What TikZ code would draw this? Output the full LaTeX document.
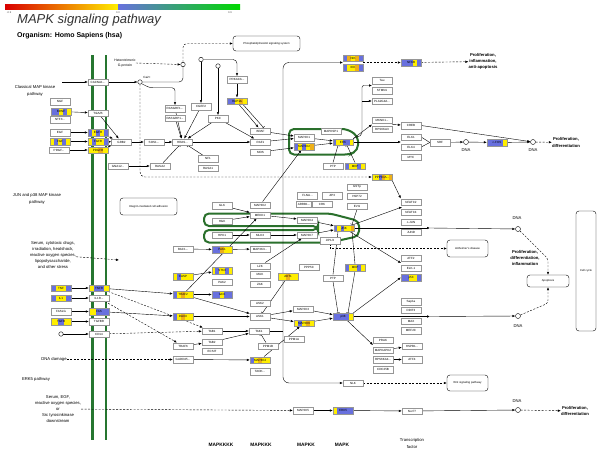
\documentclass[tikz,border=0pt]{standalone}
\usepackage{fontspec}
\setmainfont{Liberation Sans}
\usetikzlibrary{arrows.meta,calc}
\pgfdeclarelayer{bg}
\pgfsetlayers{bg,main}

\definecolor{kblue}{RGB}{104,112,222}
\definecolor{kyel}{RGB}{255,238,0}
\definecolor{kora}{RGB}{238,176,24}
\definecolor{memgreen}{RGB}{38,118,48}
\definecolor{loopgreen}{RGB}{42,112,44}
\definecolor{boxgray}{RGB}{150,150,150}

\tikzset{
  gene/.style={draw=boxgray,fill=white,line width=0.4pt,minimum width=20pt,minimum height=6.5pt,inner sep=0pt,font=\fontsize{3}{3}\selectfont},
  act/.style={-{Latex[length=3pt,width=2.4pt]},line width=0.4pt},
  inh/.style={-{Bar[width=3.5pt]},line width=0.4pt},
  ind/.style={-{Latex[length=3pt,width=2.4pt]},dash pattern=on 2pt off 1.5pt,line width=0.4pt},
  ln/.style={line width=0.4pt},
  dna/.style={circle,draw,fill=white,inner sep=0pt,minimum size=5pt,line width=0.4pt},
  smallc/.style={circle,draw,fill=white,inner sep=0pt,minimum size=4.5pt,line width=0.4pt},
  path box/.style={draw,rounded corners=3pt,fill=white,font=\fontsize{2.8}{3.2}\selectfont,align=center,inner sep=1pt,line width=0.4pt},
  note/.style={font=\fontsize{4.2}{6.2}\selectfont,align=center,inner sep=0pt},
  bnote/.style={font=\fontsize{4.2}{6.2}\selectfont\bfseries,align=center,inner sep=0pt},
  tier/.style={font=\fontsize{4.8}{5}\selectfont\bfseries},
  modloop/.style={draw=loopgreen,line width=2pt,rounded corners=5pt},
  membrane/.style={draw=memgreen,line width=2.4pt},
}

% colored gene box: name, position, label, number of stripes, stripe colours
\newcommand{\kgene}[5]{%
  \node[gene,path picture={%
    \foreach \col [count=\i] in {#5}
      \fill[\col] ($(path picture bounding box.south west)!{(\i-1)/#4}!(path picture bounding box.south east)$)
        rectangle ($(path picture bounding box.north west)!{\i/#4}!(path picture bounding box.north east)$);
  }] (#1) at (#2) {#3};}

\begin{document}
\begin{tikzpicture}[x=1pt,y=-1pt]
\useasboundingbox (0,0) rectangle (600,455);

% header
\shade[left color=red!85!black,middle color=orange,right color=kyel] (5,4) rectangle (118,9.5);
\shade[left color=kblue,middle color=teal!70,right color=green!85!black] (118,4) rectangle (240,9.5);
\node[font=\fontsize{2.6}{3}\selectfont,text=black!70] (sc1) at (9,13) {-0.9};
\node[font=\fontsize{2.6}{3}\selectfont,text=black!70] (sc2) at (118,13) {0.0};
\node[font=\fontsize{2.6}{3}\selectfont,text=black!70] (sc3) at (230,13) {0.9};
\node[anchor=west,font=\fontsize{13}{13}\selectfont\itshape,text=black!80,inner sep=0pt] (title) at (17,20) {MAPK signaling pathway};
\node[anchor=west,font=\fontsize{7}{7}\selectfont\bfseries,inner sep=0pt] (org) at (17,35.5) {Organism: Homo Sapiens (hsa)};

% side texts
\node[note,font=\fontsize{3.4}{4.8}\selectfont] (gprot) at (125,63) {Heterotrimeric\\G-protein};
\node[note] (classic) at (35,91) {Classical MAP kinase\\pathway};
\node[note] (jnkpw) at (37,199) {JUN and p38 MAP kinase\\pathway};
\node[note] (stress) at (53,255) {Serum, cytotoxic drugs,\\irradiation, heatshock,\\reactive oxygen species,\\lipopolysaccharide,\\and other stress};
\node[note] (dnadmg) at (54,359.5) {DNA damage};
\node[note] (erk5pw) at (36,379) {ERK5 pathway};
\node[note] (serum) at (58,409) {Serum, EGF,\\reactive oxygen species,\\or\\Src tyrosinkinase\\downstream};
\node[bnote] (prolif1) at (483,61.5) {Proliferation,\\inflammation,\\anti-apoptosis};
\node[bnote] (prolif2) at (566,142.5) {Proliferation,\\differentiation};
\node[bnote] (prolif3) at (525,258) {Proliferation,\\differentiation,\\inflammation};
\node[bnote] (prolif4) at (575,411) {Proliferation,\\differentiation};
\coordinate (clsin) at (62,82);
\coordinate (stressend) at (119,260);

% pathway boxes
\node[path box,minimum width=67pt,minimum height=15pt] (pi) at (266.5,43.5) {Phosphatidylinositol signaling system};
\node[path box,minimum width=57pt,minimum height=17pt] (integrin) at (148.5,206.5) {Integrin-mediated cell adhesion};
\node[path box,minimum width=41pt,minimum height=17pt] (alz) at (467.5,248.5) {Alzheimer's disease};
\node[path box,minimum width=41pt,minimum height=16pt] (wnt) at (467.5,383) {Wnt signaling pathway};
\node[path box,minimum width=42pt,minimum height=12pt] (apop) at (548,281) {Apoptosis};
\node[path box,minimum width=20pt,minimum height=120pt] (cellcycle) at (586,271) {Cell cycle};

% ligands and receptors
\node[gene] (ngf) at (60,101.5) {NGF};
\kgene{bdnf}{61,111.5}{BDNF}{5}{kblue,kblue,kyel,kblue,kyel}
\node[gene] (ntf) at (60,119.5) {NTF3...};
\node[gene] (egf) at (60,132.5) {EGF};
\kgene{fgf}{60,141.5}{FGF}{5}{kyel,kblue,kyel,kblue,kyel}
\node[gene] (pdgf) at (59,150) {PDGF...};
\node[gene] (cacna) at (98,82) {CACNA1...};
\node[gene] (trk) at (98,113) {TrkA/B};
\kgene{egfr}{98,132.5}{EGFR}{5}{kblue,kyel,kblue,kyel,kblue}
\kgene{fgfr}{98,141.5}{FGFR}{5}{kyel,kblue,kyel,kyel,kblue}
\kgene{pdgfr}{98,150}{PDGFR}{4}{kyel,kyel,kora,kyel}
\kgene{tnf}{61,288}{TNF}{4}{kblue,kyel,kyel,kblue}
\kgene{il1}{61,298}{IL1}{4}{kblue,kyel,kyel,kblue}
\node[gene] (fasl) at (61,311.5) {FASLG};
\kgene{tgfb}{61,321.5}{TGFB}{3}{kyel,kblue,kyel}
\kgene{tnfr}{99,288}{TNFR}{4}{kyel,kblue,kblue,kyel}
\node[gene] (il1r) at (99,298) {IL1R...};
\kgene{fas}{99,311.5}{FAS}{3}{kyel,kblue,kblue}
\node[gene] (tgfbr) at (99,321.5) {TGFBR};
\node[gene] (cd14) at (99,334) {CD14};
\node[smallc] (lps) at (61,334) {};

% classical pathway
\node[smallc] (ca) at (140,82) {};
\node[font=\fontsize{3}{3}\selectfont] (calab) at (147,77) {Ca2+};
\node[smallc] (c1) at (183,64.5) {};
\node[smallc] (c2) at (201,59.5) {};
\node[smallc] (c3) at (218,66) {};
\node[gene] (grb2) at (121.5,142) {GRB2};
\node[gene] (sos) at (154,142) {SOS1...};
\node[gene] (hras) at (182.5,142) {HRAS...};
\node[gene] (rasgrf) at (175,108.5) {RASGRF1...};
\node[gene] (rasgrp) at (175,118) {RASGRP1...};
\node[gene] (cgef) at (201,106.5) {CGEF2};
\node[gene] (pkc) at (218,118.5) {PKC};
\node[gene] (prkaca) at (237,79.5) {PRKACA...};
\kgene{rap1a}{237,101}{RAP1A}{5}{kblue,kblue,kyel,kora,kyel}
\node[gene] (braf) at (260.5,131) {BRAF};
\node[gene] (raf1) at (260.5,142) {RAF1};
\node[gene] (mos) at (260.5,152) {MOS};
\node[gene] (gna) at (118,166) {GNA12...};
\node[gene] (rasa2) at (160,166) {RASA2};
\node[gene] (nf1) at (208,158.5) {NF1};
\node[gene] (rasa1) at (208,168) {RASA1};
\node[gene] (mek1) at (304,137.5) {MAP2K1};
\kgene{mek2}{304,146.5}{MAP2K2}{5}{kblue,kyel,kblue,kyel,kora}
\node[gene] (mapksp) at (331,131) {MAPKSP1};
\kgene{erk}{343,142}{ERK}{6}{kblue,kyel,kyel,kblue,kblue,kyel}
\node[gene] (ptp1) at (333,166) {PTP};
\kgene{mkp1}{355,166}{MKP}{5}{kblue,kyel,kyel,kblue,kyel}
\kgene{nik}{353,58}{NIK}{5}{kblue,kora,kyel,kora,kblue}
\kgene{ikk}{353,67.5}{IKK}{5}{kblue,kyel,kyel,kora,kblue}
\kgene{nfkb}{411,62.5}{NFKB}{5}{kblue,kblue,kblue,kyel,kblue}
\node[gene] (tau) at (382,80.5) {Tau};
\node[gene] (stmn) at (382,90.5) {STMN1};
\node[gene] (pla) at (382,101) {PLA2G4A...};
\node[gene] (mknk) at (382,120) {MKNK1...};
\node[gene] (rsk) at (382,129) {RPS6KA3};
\node[gene] (creb) at (411,125.5) {CREB};
\node[gene] (elk1) at (411,137) {ELK1};
\node[gene] (elk4) at (411,147) {ELK4};
\node[gene] (myc) at (411,157) {MYC};
\node[gene] (srf) at (440,142.5) {SRF};
\node[dna] (dna1) at (466,142) {};
\kgene{cfos}{497,142.5}{c-FOS}{5}{kblue,kblue,kblue,kblue,kyel}
\node[dna] (dna2) at (533,142) {};
\node[note] (dl1) at (466,150.5) {DNA};
\node[note] (dl2) at (533,150.5) {DNA};
\coordinate (nkin) at (343,62.5);
\coordinate (nkout) at (363,62.5);
\coordinate (taust) at (372,85.5);
\coordinate (vbr) at (362,101);
\coordinate (mkin) at (372,124.5);
\coordinate (mkout) at (392,124.5);
\coordinate (elkin) at (401,142);

% JNK and p38 pathway
\node[gene] (glk) at (222,205.5) {GLK};
\node[gene] (hgk) at (222,221) {HGK};
\node[gene] (hpk1) at (222,235) {HPK1};
\node[gene] (map3k2) at (260,205) {MAP3K2};
\node[gene] (mekk1) at (260,215) {MEKK1};
\node[gene] (mlk3) at (260,235) {MLK3};
\node[gene] (map3k3) at (260,249) {MAP3K3...};
\node[gene] (rac1) at (183,249) {RAC1...};
\kgene{pak1}{222,249.5}{PAK1}{5}{kblue,kblue,kora,kyel,kyel}
\kgene{casp}{183,276.5}{CASP}{5}{kyel,kblue,kyel,kyel,kyel}
\kgene{stk3}{222,270.5}{STK3}{6}{kyel,kblue,kyel,kyel,kblue,kyel}
\node[gene] (pak2) at (222,282) {PAK2};
\kgene{traf2}{183,294.5}{TRAF2}{5}{kblue,kyel,kora,kyel,kyel}
\kgene{gck}{222,294.5}{GCK}{5}{kblue,kblue,kyel,kblue,kblue}
\node[gene] (lzk) at (260,266) {LZK};
\node[gene] (muk) at (260,274.5) {MUK};
\node[gene] (zak) at (260,284) {ZAK};
\kgene{akt}{288,276.5}{AKT1}{5}{kyel,kyel,kora,kyel,kyel}
\node[gene] (flna) at (307.5,195.5) {FLNA...};
\node[gene] (jip3) at (332,195.5) {JIP3};
\node[gene,minimum width=15pt] (arrb) at (304,204) {ARRB1...};
\node[gene] (crk) at (322,204) {CRK};
\node[gene] (gstp) at (357,187) {GSTp};
\node[gene] (hsp72) at (357,196) {HSP72};
\node[gene] (evi1) at (357,206) {EVI1};
\node[gene] (mkk4) at (307,220) {MAP2K4};
\node[gene] (mkk7) at (307,235) {MAP2K7};
\kgene{jnk}{344,228}{JNK}{6}{kblue,kyel,kblue,kyel,kyel,kora}
\node[gene] (jip12) at (330,240.5) {JIP1/2};
\kgene{ppp3ca}{382,177}{PPP3CA...}{6}{kyel,kyel,kblue,kora,kyel,kora}
\node[gene] (nfatc2) at (411,202) {NFATC2};
\node[gene] (nfatc4) at (411,212) {NFATC4};
\node[gene] (cjun) at (411,222) {c-JUN};
\node[gene] (jund) at (411,232) {JUND};
\node[gene] (atf2) at (411,258) {ATF2};
\node[gene] (elk) at (411,268) {ELK-1};
\kgene{p53}{411,277.5}{p53}{5}{kblue,kblue,kyel,kyel,kblue}
\node[gene] (ppp5c) at (309,267) {PPP5C};
\kgene{mkp2}{355,267.5}{MKP}{5}{kblue,kyel,kyel,kblue,kyel}
\node[gene] (ptp2) at (333,278) {PTP};
\node[dna] (dna3) at (518,229) {};
\node[note] (dl3) at (517,218.5) {DNA};
\coordinate (jfork) at (430,228);
\coordinate (nfatin) at (402,207);
\coordinate (atfin) at (401,263);

\node[gene] (ask2) at (260,303) {ASK2};
\kgene{daxx}{183,316.5}{DAXX}{5}{kblue,kyel,kora,kyel,kyel}
\node[gene] (ask1) at (260,316.5) {ASK1};
\node[gene] (tab1) at (212,331) {TAB1};
\node[gene] (tak1) at (259,331) {TAK1};
\node[gene] (tab2) at (212,342) {TAB2};
\node[gene] (traf6) at (183,346) {TRAF6};
\node[gene] (ecsit) at (212,351) {ECSIT};
\node[gene] (ppm1b) at (268,346) {PPM1B};
\node[gene] (gadd) at (183,359.5) {GADD45...};
\kgene{map3k4}{260,360}{MAP3K4}{5}{kblue,kyel,kora,kyel,kyel}
\node[gene] (taok) at (260,371.5) {TAOK...};
\node[gene] (mkk3) at (303,309) {MAP2K3};
\kgene{mkk6}{304,323}{MAP2K6}{5}{kyel,kblue,kyel,kora,kyel}
\node[gene] (ppm1a) at (294,339) {PPM1A};
\kgene{p38}{343,316.5}{p38}{5}{kblue,kblue,kblue,kblue,kyel}
\node[gene] (prak) at (383,340) {PRAK};
\node[gene] (mapkapk2) at (383,350) {MAPKAPK2};
\node[gene] (rps6ka) at (383,359.5) {RPS6KA4...};
\node[gene] (cdc25) at (383,369.5) {CDC25B};
\node[gene] (hsp27) at (412,346) {HSPB1...};
\node[gene] (atf4) at (412,359.5) {ATF4};
\node[gene] (sap1a) at (411,301.5) {Sap1a};
\node[gene] (ddit3) at (411,310) {DDIT3};
\node[gene] (max) at (411,321) {MAX};
\node[gene] (mef2c) at (411,330.5) {MEF2C};
\node[gene] (nlk) at (353,383) {NLK};
\node[dna] (dna4) at (518,316) {};
\node[note] (dl4) at (518,326) {DNA};
\coordinate (pfork) at (430,316.5);
\coordinate (prakin) at (373,345);
\coordinate (fr) at (283,331);

% ERK5 pathway
\node[gene] (mek5) at (303,410.5) {MAP2K5};
\kgene{erk5}{343,410.5}{ERK5}{5}{kyel,kblue,kblue,kblue,kblue}
\node[gene] (nur77) at (412,411) {Nur77};
\node[dna] (dna5) at (518,410) {};
\node[note] (dl5) at (517,401) {DNA};

% tiers
\node[tier] (t4) at (221,445) {MAPKKKK};
\node[tier] (t3) at (261,445) {MAPKKK};
\node[tier] (t2) at (306,445) {MAPKK};
\node[tier] (t1) at (342,445) {MAPK};
\node[note] (tf) at (412,443.5) {Transcription\\factor};

\begin{pgfonlayer}{bg}
\fill[white] (0,0) rectangle (600,455);
\draw[membrane] (92.5,55) -- (92.5,440);
\draw[membrane] (106,55) -- (106,440);
% scaffold loops
\draw[modloop] (300,129) -- (347,129) -- (358,136) -- (358,150) -- (350,154.5) -- (289,154.5) -- (289,129) -- cycle;
\draw[modloop] (318,226) -- (204,226) -- (204,213.5) -- (330,213.5) -- (359,221) -- (359,236) -- (330,242.5) -- (204,242.5) -- (204,230) -- (318,230) -- cycle;

% classical
\draw[act] (clsin) -- (cacna);
\draw[act] (cacna) -- (ca);
\draw[ln,rounded corners=4pt] (ca.east) -| (c1.south);
\draw[ind] (gprot.east) -- (c1.west);
\draw[ind,rounded corners=4pt] (c1.north) |- (pi.west);
\draw[act,rounded corners=4pt] (c2.east) -| (prkaca.north);
\draw[act] (c2) -- (cgef);
\draw[act] (c3) -- (pkc);
\draw[act] (prkaca) -- (rap1a);
\draw[act] ([xshift=2]rap1a.south) -- ([xshift=-2]braf.north);
\draw[inh] ([xshift=6]rap1a.south) -- ([xshift=3]braf.north);
\draw[act,rounded corners=3pt] (ca.south east) -- ++(8,4) -| (rasgrf.north);
\draw[ind,rounded corners=5pt] (ca.south) |- (ppp3ca.west);
\draw[act] (rasgrf) -- (hras);
\draw[act] (rasgrp) -- (hras);
\draw[act] (cgef) -- (hras);
\draw[act] (pkc) -- (hras);
\draw[act] (pkc) -- (raf1);
\draw[act] (hras) -- (raf1);
\draw[act] (sos) -- (hras);
\draw[act] (grb2) -- (sos);
\draw[act] (trk) -- (grb2);
\draw[act] (egfr) -- (grb2);
\draw[act] (fgfr) -- (grb2);
\draw[act] (pdgfr) -- (grb2);
\draw[act] (bdnf) -- (trk);
\draw[act] (egf) -- (egfr);
\draw[act] (fgf) -- (fgfr);
\draw[act] (pdgf) -- (pdgfr);
\draw[act] (gna) -- (rasa2);
\draw[inh] (rasa2) -- (hras);
\draw[inh] (nf1) -- (hras);
\draw[act] (raf1) -- (mek1);
\draw[act] (braf) -- (mek1);
\draw[act] (mos) -- (mek2);
\draw[act] (map3k2) -- (mek2);
\draw[act] (mek1) -- (erk);
\draw[act] (mek2) -- (erk);
\draw[inh] (ptp1.north) -- ([xshift=-5]erk.south);
\draw[inh] (mkp1.north) -- ([xshift=4]erk.south);
\draw[act,rounded corners=2pt] (erk.north east) -- (362,135) |- (taust);
\draw[act] (vbr) -- (pla);
\draw[act] (erk.north east) -- (mkin);
\draw[act] (mkout) -- (creb);
\draw[act] (erk.east) -- (elkin);
\draw[ln] (elk1.east) -- (srf.west);
\draw[ln] (elk4.east) -- (srf.west);
\draw[act] (srf) -- (dna1);
\draw[act] (dna1) -- (cfos);
\draw[act] (cfos) -- (dna2);
\draw[act] (creb.east) -- (dna2);
\draw[ind] (dna2) -- (prolif2);

% NF-kB branch and frame
\draw[ln] (tak1.east) -- (fr);
\draw[act,rounded corners=6pt] (fr) -- (283,62.5) -- (nkin);
\draw[act,rounded corners=6pt] (fr) -- (283,383) -- (nlk);
\draw[ind] (nkout) -- (nfkb);
\draw[ind] (nfkb) -- (prolif1);

% JNK
\draw[ind] (stress) -- (stressend);
\draw[act] (glk) -- (mekk1);
\draw[act] (hgk) -- (mekk1);
\draw[act] (hpk1) -- (mlk3);
\draw[act] (traf2) -- (mekk1);
\draw[act] (mekk1) -- (mkk4);
\draw[act] (mlk3) -- (mkk7);
\draw[act] (lzk) -- (mkk7);
\draw[act] (mkk4) -- (jnk);
\draw[act] (mkk7) -- (jnk);
\draw[act] (rac1) -- (pak1);
\draw[act] (pak1) -- (map3k3);
\draw[act] (casp) -- (stk3);
\draw[act] (tnfr) -- (traf2);
\draw[act] (traf2) -- (gck);
\draw[act] (traf2) -- (ask1);
\draw[inh] (evi1.south) -- ([xshift=8]jnk.north);
\draw[inh] (mkp2.north) -- ([xshift=8]jnk.south);
\draw[inh] (ptp2.north) -- ([xshift=-6]jnk.south);
\draw[act] (jnk.east) -- (jfork);
\draw[act] (jfork) -- (dna3);
\draw[act] (jnk) -- (nfatin);
\draw[act] (ppp3ca.south east) -- (nfatc2.north west);
\draw[act] (jnk) -- (atfin);
\draw[ind] (jip12.south) |- (alz.west);
\draw[ind,rounded corners=3pt] (dna3) -- ($(apop.north)+(0,-16)$) -- (apop.north);
\draw[ind,rounded corners=3pt] (dna4) -- ($(apop.south)+(0,16)$) -- (apop.south);

% p38
\draw[act] (tnf) -- (tnfr);
\draw[act] (il1) -- (il1r);
\draw[act] (fasl) -- (fas);
\draw[act] (tgfb) -- (tgfbr);
\draw[act] (lps) -- (cd14);
\draw[act] (fas) -- (daxx);
\draw[act] (daxx) -- (ask1);
\draw[ind] (il1r) -- (traf6);
\draw[ind] (tnfr) -- (tab1);
\draw[ind] (cd14) -- (tab1);
\draw[act] (traf6) -- (tab2);
\draw[act] (tab1) -- (tak1);
\draw[act] (tab2) -- (tak1);
\draw[inh] (ppm1b) -- (tak1);
\draw[inh] (akt) -- (ask1);
\draw[act] (ask1) -- (mkk3);
\draw[act] (ask1) -- (mkk6);
\draw[act] (mkk3) -- (p38);
\draw[act] (mkk6) -- (p38);
\draw[inh] (mkp2.south) -- ([xshift=5]p38.north);
\draw[inh] (ptp2.south) -- ([xshift=-5]p38.north);
\draw[ind] (dnadmg) -- (gadd);
\draw[act] (gadd) -- (map3k4);
\draw[act] (map3k4) -- (mkk6);
\draw[act] (p38.east) -- (pfork);
\draw[act] (pfork) -- (dna4);
\draw[act] (p38) -- (prakin);
\draw[act] (p38.north east) -- (p53.west);
\draw[act] (mapkapk2) -- (hsp27);
\draw[act] (rps6ka) -- (atf4);
\draw[ind] (nlk) -- (wnt);

% ERK5
\draw[ind] (serum) -- (mek5);
\draw[act] (mek5) -- (erk5);
\draw[act] (erk5) -- (nur77);
\draw[act] (nur77) -- (dna5);
\draw[ind] (dna5) -- (prolif4);
\end{pgfonlayer}
\end{tikzpicture}
\end{document}
